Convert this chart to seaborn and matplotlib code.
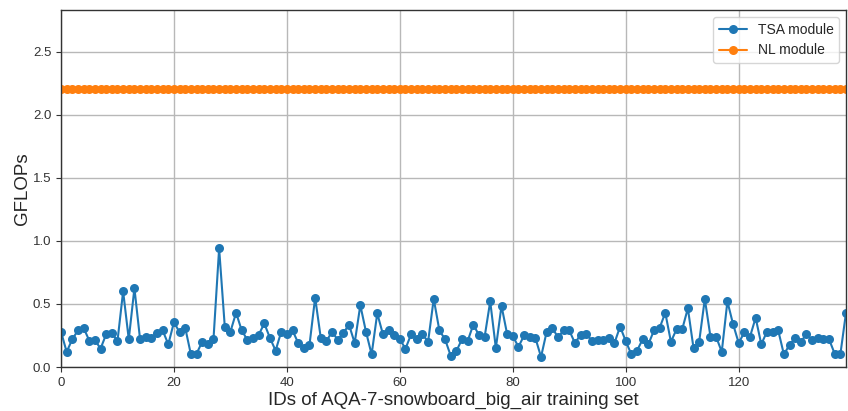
import numpy as np
import pandas as pd
import matplotlib
matplotlib.use("Agg")
import matplotlib.pyplot as plt
import seaborn as sns

tsa_values = [
    0.28, 0.12, 0.22, 0.29, 0.31, 0.21, 0.215, 0.145, 0.26, 0.27,
    0.205, 0.60, 0.22, 0.625, 0.22, 0.24, 0.23, 0.27, 0.29, 0.18,
    0.355, 0.275, 0.31, 0.10, 0.105, 0.20, 0.18, 0.22, 0.94, 0.32,
    0.28, 0.43, 0.29, 0.215, 0.23, 0.255, 0.345, 0.23, 0.13, 0.28,
    0.26, 0.29, 0.19, 0.15, 0.175, 0.55, 0.23, 0.205, 0.28, 0.215,
    0.27, 0.335, 0.19, 0.49, 0.28, 0.10, 0.425, 0.26, 0.29, 0.255,
    0.22, 0.145, 0.26, 0.22, 0.26, 0.20, 0.54, 0.29, 0.22, 0.09,
    0.125, 0.22, 0.205, 0.335, 0.255, 0.235, 0.52, 0.15, 0.485, 0.26,
    0.245, 0.16, 0.25, 0.235, 0.23, 0.08, 0.28, 0.31, 0.235, 0.29,
    0.29, 0.19, 0.255, 0.26, 0.21, 0.215, 0.215, 0.23, 0.19, 0.32,
    0.205, 0.10, 0.13, 0.22, 0.18, 0.29, 0.31, 0.43, 0.20, 0.30,
    0.30, 0.465, 0.15, 0.20, 0.54, 0.24, 0.24, 0.12, 0.52, 0.34,
    0.19, 0.275, 0.24, 0.39, 0.18, 0.28, 0.28, 0.29, 0.10, 0.175,
    0.23, 0.20, 0.26, 0.215, 0.23, 0.22, 0.22, 0.105, 0.10, 0.43,
]
nl_value = 2.2
series_names = ["TSA module", "NL module"]
x_label = "IDs of AQA-7-snowboard_big_air training set"
y_label = "GFLOPs"

ids = np.arange(len(tsa_values))
df = pd.DataFrame({
    "id": np.concatenate([ids, ids]),
    "gflops": np.concatenate([tsa_values, np.full(len(ids), nl_value)]),
    "module": [series_names[0]] * len(ids) + [series_names[1]] * len(ids),
})

sns.set_style("ticks")
plt.rcParams["font.family"] = ["Liberation Sans", "DejaVu Sans"]

fig = plt.figure(figsize=(8.48, 4.11), dpi=100)
ax = fig.add_axes([61 / 848, 1 - 367 / 411, (846 - 61) / 848, (367 - 10) / 411])

sns.lineplot(data=df, x="id", y="gflops", hue="module", marker="o",
             palette=["#1f77b4", "#ff7f0e"], markersize=6.5, markeredgewidth=0,
             linewidth=1.5, ax=ax)

ax.set_xlim(0, len(tsa_values) - 1)
ax.set_ylim(0, 2.83)
ax.set_yticks([0.0, 0.5, 1.0, 1.5, 2.0, 2.5])
ax.set_xticks([0, 20, 40, 60, 80, 100, 120])
ax.grid(True, color="#b8b8b8", linewidth=1.0)
ax.set_axisbelow(True)
ax.set_xlabel(x_label, fontsize=13.5, labelpad=2)
ax.set_ylabel(y_label, fontsize=13.5, labelpad=1)
ax.tick_params(labelsize=9.5, length=3.5, color="#333333", labelcolor="#333333")
for s in ax.spines.values():
    s.set_color("#333333")
    s.set_linewidth(1.0)
leg = ax.legend(loc="upper right", fontsize=10, frameon=True)
leg.set_title(None)

fig.savefig("out.png", dpi=100)
